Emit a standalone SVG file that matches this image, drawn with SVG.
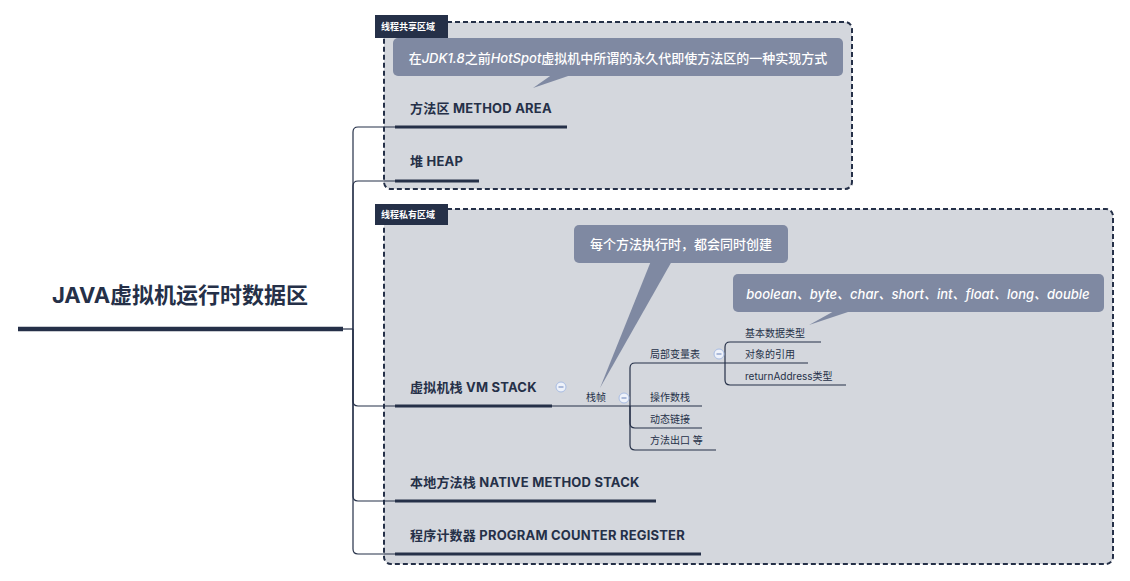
<svg xmlns="http://www.w3.org/2000/svg" width="1130" height="581" viewBox="0 0 1130 581">
<style>
.zone{fill:#d4d7dd;stroke:#253048;stroke-width:2;stroke-dasharray:5 3}
.zlab{fill:#253048}
.zt{font-family:"Noto Sans CJK SC",sans-serif;font-size:9px;font-weight:bold;fill:#ffffff}
.co{fill:#7f89a2}
.ct{font-family:"Inter","Noto Sans CJK SC",sans-serif;font-size:13px;font-weight:500;fill:#ffffff;text-anchor:middle}
.it{font-style:italic}
.n{font-family:"Inter","Noto Sans CJK SC",sans-serif;font-size:13px;font-weight:bold;fill:#253048;letter-spacing:0.2px}
.s{font-family:"Inter","Noto Sans CJK SC",sans-serif;font-size:10px;fill:#253048}
.ul{stroke:#253048;stroke-width:3.2;fill:none}
.c{stroke:#253048;stroke-width:1.2;fill:none}
.col circle{fill:#eef2fa;stroke:#a9bde3;stroke-width:1}
.col line{stroke:#7f95c5;stroke-width:1.2}
</style>
<rect width="1130" height="581" fill="#ffffff"/>
<g id="zone-shared">
<rect class="zone" x="384" y="22" width="468" height="167" rx="7"/>
<rect class="zlab" x="375" y="15" width="73" height="23"/>
<text class="zt" x="381" y="30">线程共享区域</text>
</g>
<g id="zone-private">
<rect class="zone" x="384" y="209" width="729" height="355" rx="7"/>
<rect class="zlab" x="375" y="204" width="73" height="21"/>
<text class="zt" x="381" y="218">线程私有区域</text>
</g>
<g id="connectors">
<path class="c" d="M343,329 H353"/>
<path class="c" d="M353,329 V132 Q353,127 358,127 H395"/>
<path class="c" d="M353,329 V186 Q353,181 358,181 H395"/>
<path class="c" d="M353,329 V401 Q353,406 358,406 H395"/>
<path class="c" d="M353,329 V496 Q353,501 358,501 H395"/>
<path class="c" d="M353,329 V549 Q353,554 358,554 H395"/>
<path class="c" d="M552,406 H630"/>
<path class="c" d="M630,406 V368 Q630,363 635,363 H725"/>
<path class="c" d="M630,406 H702"/>
<path class="c" d="M630,406 V423 Q630,428 635,428 H702"/>
<path class="c" d="M630,406 V445 Q630,450 635,450 H716"/>
<path class="c" d="M725,363 V347 Q725,342 730,342 H821"/>
<path class="c" d="M725,363 H808"/>
<path class="c" d="M725,363 V380 Q725,385 730,385 H846"/>
</g>
<g id="root">
<text x="180" y="303" text-anchor="middle" font-family="Inter,'Noto Sans CJK SC',sans-serif" font-size="22" font-weight="bold" fill="#253048">JAVA虚拟机运行时数据区</text>
<line x1="18" y1="329" x2="343" y2="329" stroke="#253048" stroke-width="4.5"/>
</g>
<g id="method-area">
<text class="n" x="410" y="113">方法区 METHOD AREA</text>
<line class="ul" x1="395" y1="127" x2="567" y2="127"/>
</g>
<g id="heap">
<text class="n" x="410" y="166">堆 HEAP</text>
<line class="ul" x1="395" y1="181" x2="479" y2="181"/>
</g>
<g id="vm-stack">
<text class="n" x="410" y="392">虚拟机栈 VM STACK</text>
<line class="ul" x1="395" y1="406" x2="552" y2="406"/>
<g class="col"><circle cx="561" cy="387" r="5"/><line x1="558.5" y1="387" x2="563.5" y2="387"/></g>
</g>
<g id="native-stack">
<text class="n" x="410" y="487">本地方法栈 NATIVE METHOD STACK</text>
<line class="ul" x1="395" y1="501" x2="656" y2="501"/>
</g>
<g id="pc-register">
<text class="n" x="410" y="540">程序计数器 PROGRAM COUNTER REGISTER</text>
<line class="ul" x1="395" y1="554" x2="701" y2="554"/>
</g>
<g id="frame">
<text class="s" x="586" y="401">栈帧</text>
<g class="col"><circle cx="624" cy="398" r="5"/><line x1="621.5" y1="398" x2="626.5" y2="398"/></g>
</g>
<g id="local-vars">
<text class="s" x="650" y="358">局部变量表</text>
<g class="col"><circle cx="719" cy="354" r="5"/><line x1="716.5" y1="354" x2="721.5" y2="354"/></g>
</g>
<g id="operand-stack"><text class="s" x="650" y="401">操作数栈</text></g>
<g id="dynamic-link"><text class="s" x="650" y="423">动态链接</text></g>
<g id="return-addr"><text class="s" x="650" y="444">方法出口 等</text></g>
<g id="primitive"><text class="s" x="745" y="337">基本数据类型</text></g>
<g id="obj-ref"><text class="s" x="745" y="358">对象的引用</text></g>
<g id="return-address-type"><text class="s" x="745" y="380">returnAddress类型</text></g>
<g id="callout-1">
<polygon class="co" points="553,74 574,74 533,88"/>
<rect class="co" x="393" y="38" width="450" height="38" rx="5"/>
<text class="ct" x="618" y="63">在<tspan class="it">JDK1.8</tspan>之前<tspan class="it">HotSpot</tspan>虚拟机中所谓的永久代即使方法区的一种实现方式</text>
</g>
<g id="callout-2">
<polygon class="co" points="651,261 672,261 600,388"/>
<rect class="co" x="574" y="225" width="214" height="38" rx="5"/>
<text class="ct" x="681" y="249">每个方法执行时，都会同时创建</text>
</g>
<g id="callout-3">
<polygon class="co" points="836,310 854,310 809,325"/>
<rect class="co" x="733" y="274" width="371" height="38" rx="5"/>
<text class="ct it" x="918" y="299">boolean、byte、char、short、int、float、long、double</text>
</g>
</svg>
